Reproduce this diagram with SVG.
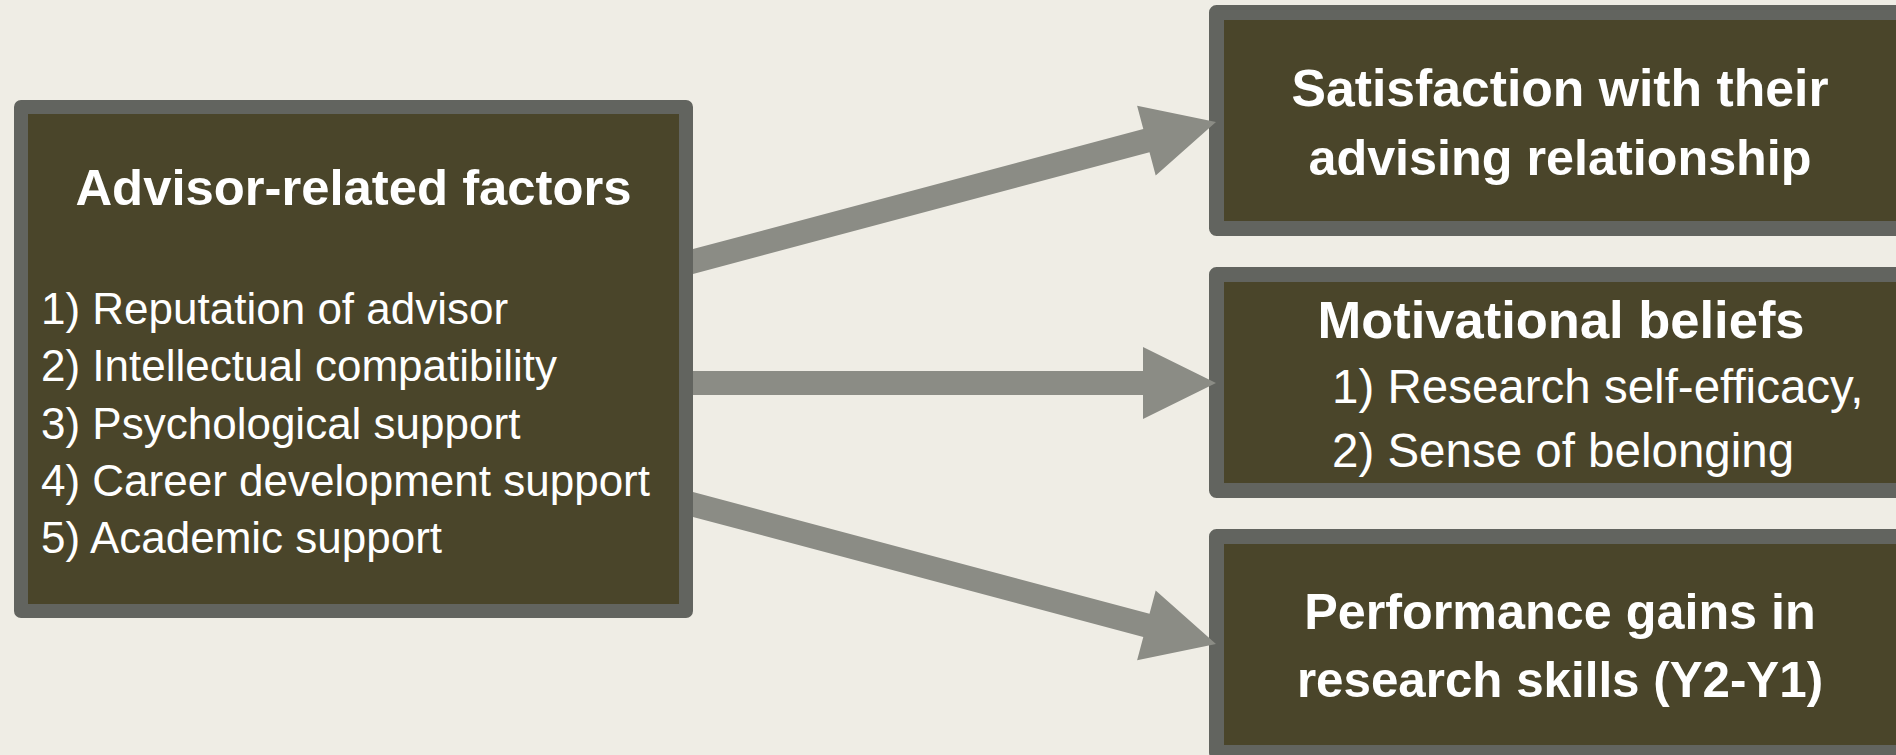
<svg xmlns="http://www.w3.org/2000/svg" width="1896" height="755" viewBox="0 0 1896 755">
<style>
.box{fill:#4A452A;stroke:#62645F;stroke-linejoin:round}
.arrow{fill:#8B8C85}
.t{fill:#FFFFFF;font-family:"Liberation Sans",Arial,sans-serif}
.h{font-weight:bold;font-size:51px;text-anchor:middle}
.b{font-size:44px}
.b2{font-size:47.5px}
</style>
<rect width="1896" height="755" fill="#EFEDE5"/>
<g id="node-advisor">
<rect class="box" x="21" y="107" width="665" height="504" stroke-width="14"/>
<text class="t h" x="353.5" y="205" style="font-size:50.8px">Advisor-related factors</text>
<text class="t b" x="41" y="324">1) Reputation of advisor</text>
<text class="t b" x="41" y="381.3">2) Intellectual compatibility</text>
<text class="t b" x="41" y="438.6">3) Psychological support</text>
<text class="t b" x="41" y="495.9">4) Career development support</text>
<text class="t b" x="41" y="553.2">5) Academic support</text>
</g>
<g id="node-satisfaction">
<rect class="box" x="1216.5" y="12.5" width="688" height="216" stroke-width="15"/>
<text class="t h" x="1560" y="106" style="font-size:51.7px">Satisfaction with their</text>
<text class="t h" x="1560" y="175" style="font-size:50.3px">advising relationship</text>
</g>
<g id="node-motivation">
<rect class="box" x="1216.5" y="274.5" width="688" height="216" stroke-width="15"/>
<text class="t h" x="1561" y="338" style="font-size:52.5px">Motivational beliefs</text>
<text class="t b2" x="1332" y="402.5">1) Research self-efficacy,</text>
<text class="t b2" x="1332" y="466.5">2) Sense of belonging</text>
</g>
<g id="node-performance">
<rect class="box" x="1216.5" y="536.5" width="688" height="216" stroke-width="15"/>
<text class="t h" x="1560" y="629" style="font-size:50.3px">Performance gains in</text>
<text class="t h" x="1560" y="697" style="font-size:49.3px">research skills (Y2-Y1)</text>
</g>
<g id="connectors">
<polygon class="arrow" points="693,249.1 1143.3,129 1137.1,105.8 1216,122 1155.7,175.4 1149.5,152.2 693,274"/>
<polygon class="arrow" points="693,371 1143,371 1143,347 1216,383 1143,419 1143,395 693,395"/>
<polygon class="arrow" points="693,516.9 1143.3,637 1137.1,660.2 1216,644 1155.7,590.6 1149.5,613.8 693,492"/>
</g>
</svg>
